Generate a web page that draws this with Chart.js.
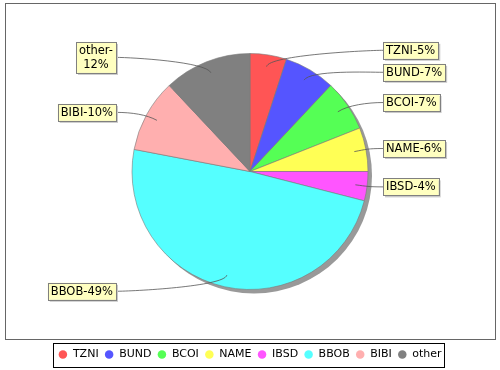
<!DOCTYPE html>
<html>
<head>
<meta charset="utf-8">
<script src="https://cdn.jsdelivr.net/npm/chart.js@4"></script>
<style>
  body { margin: 0; background: #fff; }
  canvas { display: block; }
</style>
</head>
<body>
<canvas id="pieChart" width="500" height="370"></canvas>
<script>
// Slice data (percent shares)
const categories = ['TZNI', 'BUND', 'BCOI', 'NAME', 'IBSD', 'BBOB', 'BIBI', 'other'];
const shares = [5, 7, 7, 6, 4, 49, 10, 12];
const sliceColors = ['#FF5555', '#5555FF', '#55FF55', '#FFFF55', '#FF55FF', '#55FFFF', '#FFAFAF', '#808080'];
// labels that were wrapped after the hyphen in the original
const wrappedLabels = ['other'];

const LABEL_FONT = '11.5px "DejaVu Sans", sans-serif';

// grey drop shadow under the pie
const pieShadow = {
    id: 'pieShadow',
    beforeDatasetsDraw(chart) {
        const arc = chart.getDatasetMeta(0).data[0];
        if (!arc) return;
        const ctx = chart.ctx;
        ctx.save();
        ctx.fillStyle = '#999999';
        ctx.beginPath();
        ctx.arc(arc.x + 4, arc.y + 4, arc.outerRadius, 0, Math.PI * 2);
        ctx.fill();
        ctx.restore();
    }
};

// yellow label boxes with curved link lines
const sliceLabels = {
    id: 'sliceLabels',
    afterDatasetsDraw(chart) {
        const ctx = chart.ctx;
        const meta = chart.getDatasetMeta(0);
        const total = shares.reduce((a, b) => a + b, 0);
        ctx.save();
        ctx.font = LABEL_FONT;
        const items = meta.data.map((arc, i) => {
            const mid = (arc.startAngle + arc.endAngle) / 2;
            const pct = Math.round(shares[i] / total * 100);
            const lines = wrappedLabels.includes(categories[i])
                ? [categories[i] + '-', pct + '%']
                : [categories[i] + '-' + pct + '%'];
            const w = Math.max(...lines.map(l => ctx.measureText(l).width)) + 6;
            const h = lines.length * 14 + 3;
            return {
                arc, mid, lines, w, h,
                right: Math.cos(mid) >= 0,
                y: arc.y + Math.sin(mid) * arc.outerRadius * 1.04
            };
        });

        // push overlapping labels apart on each side
        [true, false].forEach(side => {
            const group = items.filter(it => it.right === side).sort((a, b) => a.y - b.y);
            for (let k = 1; k < group.length; k++) {
                const prev = group[k - 1], cur = group[k];
                const minY = prev.y + prev.h / 2 + 5 + cur.h / 2;
                if (cur.y < minY) cur.y = minY;
            }
        });

        items.forEach(it => {
            const { arc, mid, lines, w, h, right, y } = it;
            const cx = arc.x, cy = arc.y, r = arc.outerRadius;
            const boxX = right ? cx + r + 15 : cx - r - 16 - w;
            const boxY = y - h / 2;
            const edgeX = right ? boxX : boxX + w;

            // link line
            ctx.strokeStyle = '#555';
            ctx.lineWidth = 0.8;
            ctx.beginPath();
            ctx.moveTo(edgeX, y);
            ctx.bezierCurveTo(
                right ? cx + r : cx - r, y,
                cx + Math.cos(mid) * r, cy + Math.sin(mid) * r,
                cx + Math.cos(mid) * r * 0.9, cy + Math.sin(mid) * r * 0.9
            );
            ctx.stroke();

            // box with shadow
            ctx.fillStyle = '#c8c8c8';
            ctx.fillRect(boxX + 2, boxY + 2, w, h);
            ctx.fillStyle = '#FFFFC0';
            ctx.fillRect(boxX, boxY, w, h);
            ctx.strokeStyle = '#808080';
            ctx.lineWidth = 1;
            ctx.strokeRect(Math.round(boxX) + 0.5, Math.round(boxY) + 0.5, Math.round(w), Math.round(h));

            ctx.fillStyle = '#000';
            ctx.textAlign = 'center';
            ctx.textBaseline = 'middle';
            lines.forEach((line, k) => {
                ctx.fillText(line, boxX + w / 2, boxY + 1.5 + 7 + k * 14 + 0.5);
            });
        });
        ctx.restore();
    }
};

// plot outline and legend frame
const frames = {
    id: 'frames',
    afterDraw(chart) {
        const ctx = chart.ctx;
        ctx.save();
        ctx.strokeStyle = '#666';
        ctx.lineWidth = 1;
        ctx.strokeRect(5.5, 3.5, 490, 336);

        const boxes = chart.legend.legendHitBoxes;
        if (boxes && boxes.length) {
            const left = Math.min(...boxes.map(b => b.left)) - 5;
            const right = Math.max(...boxes.map(b => b.left + b.width)) + 3;
            const mid = boxes[0].top + boxes[0].height / 2;
            ctx.strokeStyle = '#000';
            ctx.strokeRect(Math.round(left) + 0.5, Math.round(mid - 12) + 0.5, Math.round(right - left), 24);
        }
        ctx.restore();
    }
};

new Chart(document.getElementById('pieChart').getContext('2d'), {
    type: 'pie',
    data: {
        labels: categories,
        datasets: [{
            data: shares,
            backgroundColor: sliceColors,
            borderColor: '#7a7a7a',
            borderWidth: 0.6,
            radius: 118
        }]
    },
    options: {
        responsive: false,
        animation: false,
        radius: 118,
        layout: { padding: 0 },
        plugins: {
            tooltip: { enabled: false },
            legend: {
                position: 'bottom',
                labels: {
                    usePointStyle: true,
                    boxWidth: 9,
                    boxHeight: 6,
                    padding: 6,
                    color: '#000',
                    font: { family: 'DejaVu Sans', size: 11 },
                    generateLabels: () => categories.map((c, i) => ({
                        text: c,
                        fillStyle: sliceColors[i],
                        strokeStyle: sliceColors[i],
                        lineWidth: 0,
                        pointStyle: 'circle',
                        hidden: false,
                        index: i,
                        fontColor: '#000'
                    }))
                }
            }
        }
    },
    plugins: [pieShadow, sliceLabels, frames]
});
</script>
</body>
</html>
